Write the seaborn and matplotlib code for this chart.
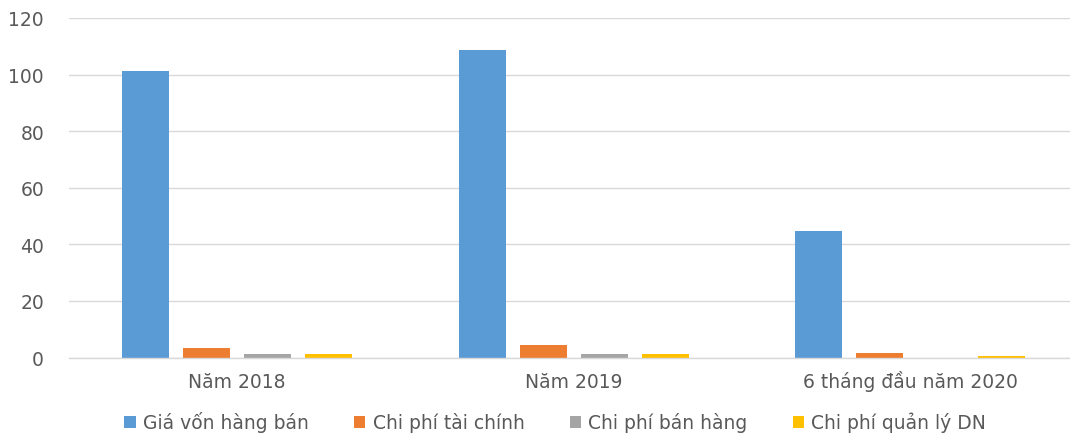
import matplotlib
matplotlib.use("Agg")
import matplotlib.pyplot as plt
import seaborn as sns
import pandas as pd
from matplotlib.patches import Patch

categories = ["Năm 2018", "Năm 2019", "6 tháng đầu năm 2020"]
series_names = ["Giá vốn hàng bán", "Chi phí tài chính", "Chi phí bán hàng", "Chi phí quản lý DN"]
gia_von = [101.3, 108.7, 44.7]
chi_phi_tai_chinh = [3.3, 4.4, 1.7]
chi_phi_ban_hang = [1.1, 1.1, 0.0]
chi_phi_quan_ly = [1.1, 1.1, 0.6]
colors = ["#5B9BD5", "#ED7D31", "#A5A5A5", "#FFC000"]
y_ticks = [0, 20, 40, 60, 80, 100, 120]

rows = []
for name, vals in zip(series_names, [gia_von, chi_phi_tai_chinh, chi_phi_ban_hang, chi_phi_quan_ly]):
    for c, v in zip(categories, vals):
        rows.append({"cat": c, "series": name, "value": v})
df = pd.DataFrame(rows)

sns.set_theme(style="white")
plt.rcParams["font.family"] = ["DejaVu Sans"]

fs = 13.5
fig = plt.figure(figsize=(10.7, 4.35), dpi=100)
ax = fig.add_axes([69 / 1070, 1 - 358.5 / 435, 1001 / 1070, (358.5 - 19) / 435])

sns.barplot(data=df, x="cat", y="value", hue="series", order=categories,
            hue_order=series_names, palette=colors, width=0.726, gap=0.23,
            ax=ax, legend=False, saturation=1, linewidth=0)

ax.set_xlim(-0.5, -0.5 + 1001 / 336.5)
ax.set_ylim(0, 120)
ax.set_yticks(y_ticks)
ax.set_yticklabels([str(t) for t in y_ticks], color="#595959", fontsize=fs)
ax.tick_params(axis="x", colors="#595959", labelsize=fs, length=0, pad=21)
ax.tick_params(axis="y", length=0, pad=18)
for lab in ax.get_xticklabels():
    lab.set_verticalalignment("baseline")
ax.set_xlabel("")
ax.set_ylabel("")
ax.yaxis.grid(True, color="#D9D9D9", linewidth=1)
ax.set_axisbelow(True)
for s in ["top", "right", "left"]:
    ax.spines[s].set_visible(False)
ax.spines["bottom"].set_color("#D9D9D9")
ax.spines["bottom"].set_linewidth(1)

handles = [Patch(facecolor=c, edgecolor="none") for c in colors]
fig.legend(handles, series_names, loc="center", bbox_to_anchor=(0.519, 1 - 423 / 435),
           ncol=4, frameon=False, fontsize=fs, labelcolor="#595959",
           handlelength=0.6, handleheight=0.6, handletextpad=0.4, columnspacing=2.4)

fig.savefig("out.png", dpi=100)
